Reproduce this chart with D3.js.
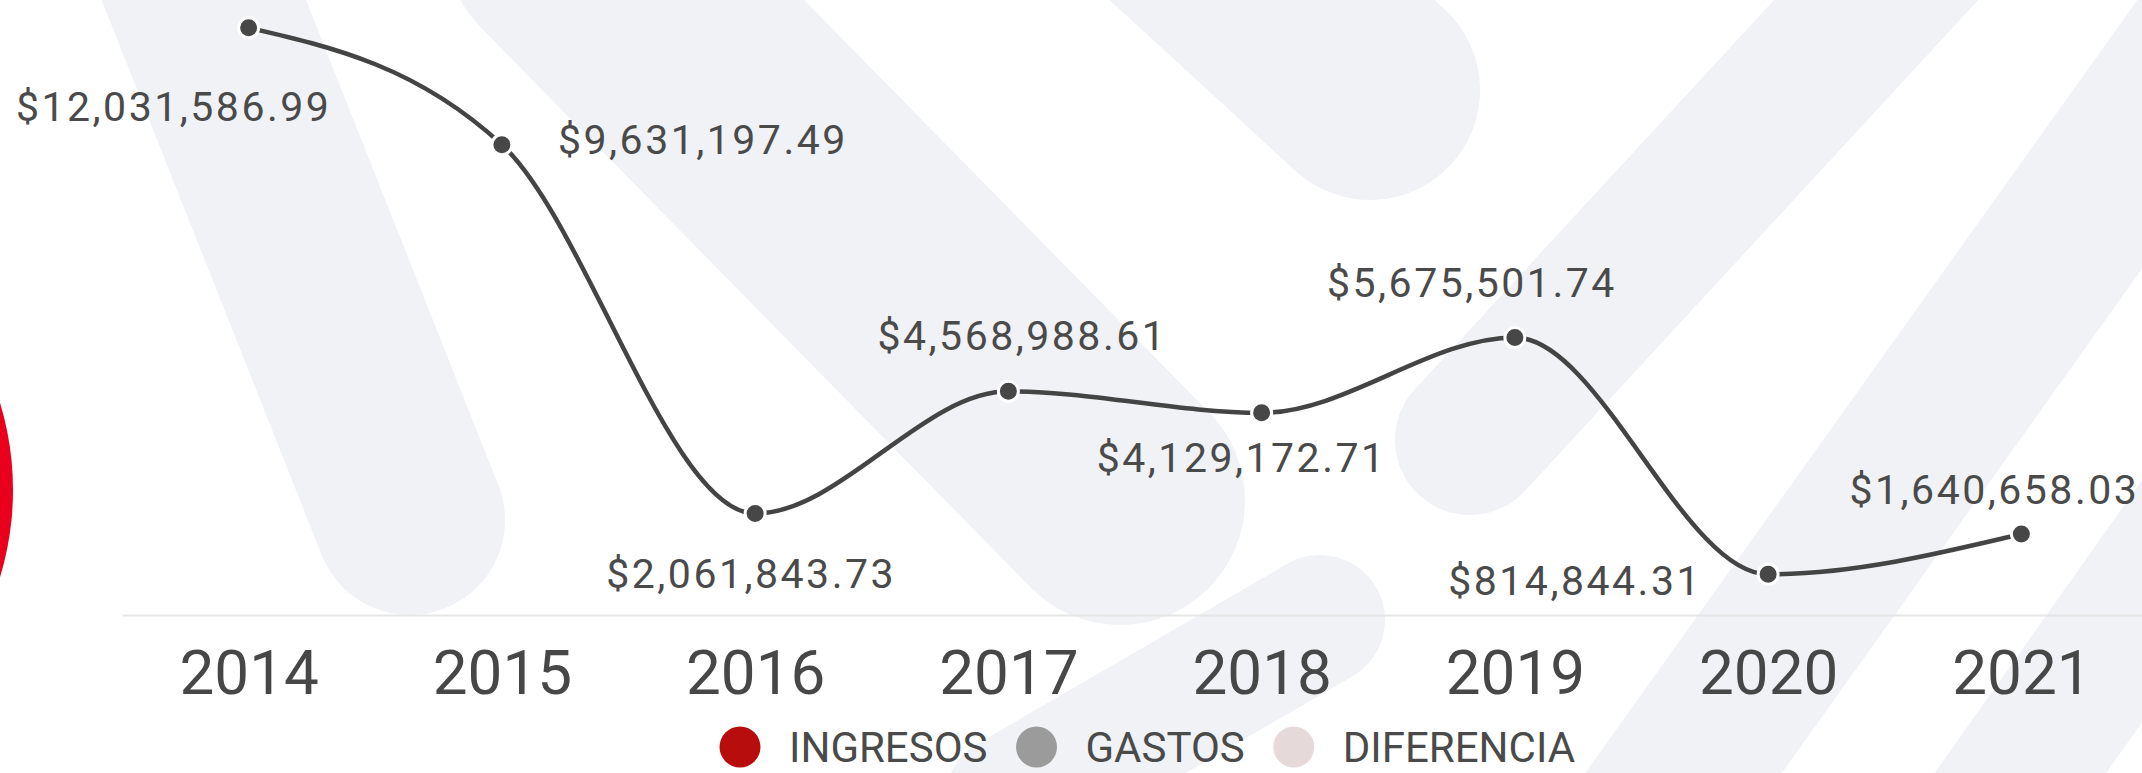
<!DOCTYPE html>
<html>
<head>
<meta charset="utf-8">
<script src="https://cdn.jsdelivr.net/npm/d3@7"></script>
<style>
  html, body { margin: 0; padding: 0; background: #fff; overflow: hidden; }
  svg { display: block; font-family: Roboto, "Open Sans", sans-serif; }
</style>
</head>
<body>
<svg id="chart" width="2142" height="773"></svg>
<script>
// data
var years = ["2014", "2015", "2016", "2017", "2018", "2019", "2020", "2021"];
var diferencia = [12031586.99, 9631197.49, 2061843.73, 4568988.61, 4129172.71, 5675501.74, 814844.31, 1640658.03];
var legendNames = ["INGRESOS", "GASTOS", "DIFERENCIA"];
var legendColors = ["#b80d0d", "#9b9b9b", "#e6d9d9"];

// where each value label sits, relative to its point (dx to centre, dy to baseline)
var labelOffsets = [[-75, 93], [201, 9], [-4, 74], [14, -41], [-20, 59], [-43, -40], [-193, 21], [-27, -30]];

var width = 2142, height = 773;
var svg = d3.select("#chart");

// faint watermark stripes in the background
var stripes = [
  [180, -60, 410, 520, 190],
  [570, -60, 1120, 500, 250],
  [1000, -250, 1370, 90, 220],
  [1470, 440, 1950, -80, 150],
  [1650, 820, 2250, -20, 160],
  [1980, 830, 2320, 350, 140],
  [1010, 800, 1320, 620, 130]
];
svg.append("g")
  .selectAll("line")
  .data(stripes)
  .enter()
  .append("line")
  .attr("x1", d => d[0]).attr("y1", d => d[1])
  .attr("x2", d => d[2]).attr("y2", d => d[3])
  .attr("stroke", "#f0f2f5")
  .attr("stroke-width", d => d[4])
  .attr("stroke-linecap", "round");

// red disc peeking in from the left edge
svg.append("circle")
  .attr("cx", -287).attr("cy", 490).attr("r", 300)
  .attr("fill", "#e8001c");

// scales
var x = d3.scalePoint()
  .domain(years)
  .range([122, 2148])
  .padding(0.5);

var y = d3.scaleLinear()
  .domain([0, 12600000])
  .range([614, 0]);

// x axis
var xAxis = svg.append("g")
  .attr("transform", "translate(0,615)")
  .call(d3.axisBottom(x).tickSize(0).tickPadding(35));
xAxis.select(".domain")
  .attr("stroke", "#e6e6e6")
  .attr("stroke-width", 2);
xAxis.selectAll("text")
  .attr("fill", "#474747")
  .style("font-family", "Roboto, sans-serif")
  .style("font-size", "62px");

// line
var line = d3.line()
  .x((d, i) => x(years[i]))
  .y(d => y(d))
  .curve(d3.curveMonotoneX);

svg.append("path")
  .datum(diferencia)
  .attr("fill", "none")
  .attr("stroke", "#444")
  .attr("stroke-width", 4.5)
  .attr("d", line);

// markers
svg.append("g")
  .selectAll("circle")
  .data(diferencia)
  .enter()
  .append("circle")
  .attr("cx", (d, i) => x(years[i]))
  .attr("cy", d => y(d))
  .attr("r", 10)
  .attr("fill", "#474747")
  .attr("stroke", "#fff")
  .attr("stroke-width", 3);

// value labels
var fmt = d3.format("$,.2f");
svg.append("g")
  .selectAll("text")
  .data(diferencia)
  .enter()
  .append("text")
  .attr("x", (d, i) => x(years[i]) + labelOffsets[i][0])
  .attr("y", (d, i) => y(d) + labelOffsets[i][1])
  .attr("text-anchor", "middle")
  .attr("fill", "#4a4a4a")
  .style("font-size", "41px")
  .style("letter-spacing", "2.5px")
  .text(d => fmt(d));

// legend
var legend = svg.append("g");
var cursor = 720;
legendNames.forEach(function (name, i) {
  legend.append("circle")
    .attr("cx", cursor + 20).attr("cy", 747).attr("r", 20.5)
    .attr("fill", legendColors[i]);
  var t = legend.append("text")
    .attr("x", cursor + 69).attr("y", 762)
    .attr("fill", "#4a4a4a")
    .style("font-size", "42px")
    .text(name);
  cursor = cursor + 69 + t.node().getComputedTextLength() + 29;
});
</script>
</body>
</html>
